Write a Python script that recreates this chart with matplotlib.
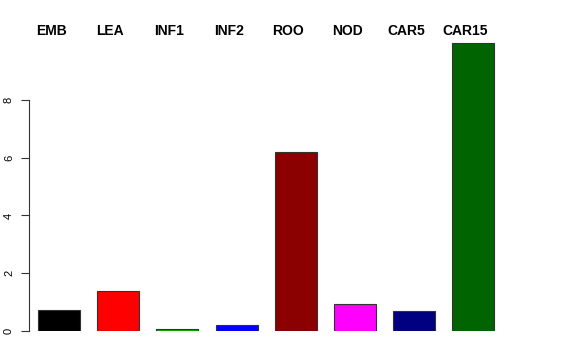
import matplotlib
matplotlib.use("Agg")
import matplotlib.pyplot as plt
import matplotlib.transforms as mtrans

categories = ["EMB", "LEA", "INF1", "INF2", "ROO", "NOD", "CAR5", "CAR15"]
values = [0.73, 1.39, 0.07, 0.20, 6.20, 0.93, 0.69, 9.97]
colors = ["#000000", "#FF0000", "#00B000", "#0000FF", "#8B0000", "#FF00FF", "#000080", "#006400"]
yticks = [0, 2, 4, 6, 8]

plt.rcParams['font.family'] = ['Liberation Sans', 'DejaVu Sans']
fig = plt.figure(figsize=(5.76, 3.6), dpi=100)
W, H = 576, 360
left_px, right_px = 29, 503
bot_px, top_px = 331, 42.25
ax = fig.add_axes([left_px / W, (H - bot_px) / H, (right_px - left_px) / W, (bot_px - top_px) / H])

x = list(range(len(categories)))
ax.bar(x, values, width=0.71, color=colors, edgecolor="#333333", linewidth=0.8)
ax.set_xlim(-0.507, 7.5)
ax.set_ylim(0, 10)

for s in ["top", "right", "bottom"]:
    ax.spines[s].set_visible(False)
ax.spines["left"].set_bounds(0, 8)
ax.spines["left"].set_linewidth(0.8)
ax.spines["left"].set_color("#333333")
ax.set_xticks([])
ax.set_yticks(yticks)
ax.set_yticklabels([str(t) for t in yticks], rotation=90, va="center", fontsize=8)
ax.tick_params(axis="y", length=5.8, width=0.8, color="#333333", pad=5)

trans = mtrans.blended_transform_factory(ax.transData, fig.transFigure) + \
    mtrans.ScaledTranslation(-8 / 100, 0, fig.dpi_scale_trans)
for xi, name in zip(x, categories):
    ax.text(xi, (H - 35) / H, name, transform=trans,
            ha="center", va="baseline", fontsize=10, fontweight="bold")

fig.savefig("out.png", dpi=100)
